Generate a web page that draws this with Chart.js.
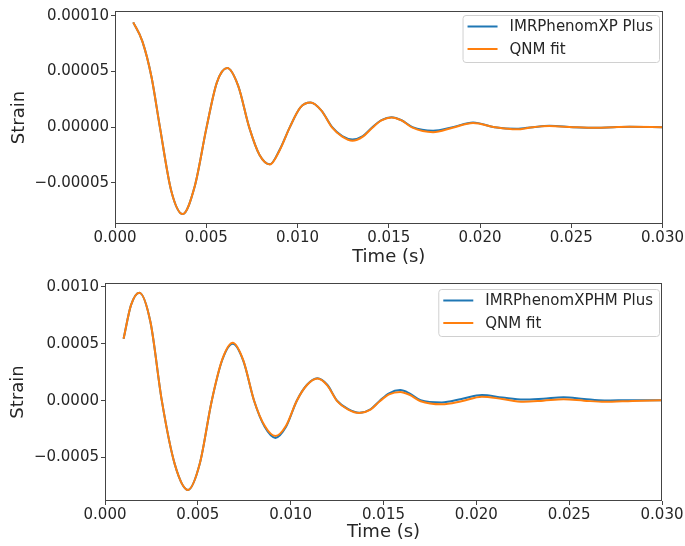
<!DOCTYPE html>
<html>
<head>
<meta charset="utf-8">
<script src="https://cdn.jsdelivr.net/npm/chart.js@4/dist/chart.umd.min.js"></script>
<style>
  body { margin: 0; background: #fff; }
  canvas { position: absolute; left: 0; }
</style>
</head>
<body>
<canvas id="topChart" width="685" height="270" style="top:0"></canvas>
<canvas id="bottomChart" width="685" height="276" style="top:270px"></canvas>
<script>
// top panel: IMRPhenomXP vs QNM fit
const topTime = [0.0010, 0.0015, 0.0020, 0.00246, 0.00308, 0.00371, 0.00437, 0.00502, 0.00558, 0.00615,
                 0.00675, 0.00735, 0.00792, 0.00849, 0.00903, 0.00958, 0.01015, 0.01071, 0.0113, 0.0119,
                 0.01245, 0.01301, 0.01358, 0.0141, 0.0146, 0.01515, 0.0157, 0.0163, 0.01743, 0.0185,
                 0.01962, 0.0208, 0.0220, 0.0229, 0.0238, 0.0251, 0.0264, 0.0273, 0.0282, 0.0300];
const topIMR = [9.4e-5, 7.7e-5, 4.5e-5, 0, -5.7e-5, -7.8e-5, -5.3e-5, 0, 4.0e-5, 5.3e-5,
                3.7e-5, 0, -2.5e-5, -3.33e-5, -2.0e-5, 0, 1.75e-5, 2.2e-5, 1.5e-5, 0,
                -0.8e-5, -1.1e-5, -0.8e-5, 0, 0.63e-5, 0.89e-5, 0.62e-5, 0, -0.32e-5, 0,
                0.42e-5, 0, -0.15e-5, 0, 0.12e-5, 0, -0.06e-5, 0, 0.04e-5, 0];
const topQNM = [9.4e-5, 7.7e-5, 4.5e-5, 0, -5.7e-5, -7.8e-5, -5.3e-5, 0, 4.0e-5, 5.3e-5,
                3.7e-5, 0, -2.5e-5, -3.35e-5, -2.05e-5, 0, 1.75e-5, 2.2e-5, 1.5e-5, -0.05e-5,
                -0.85e-5, -1.22e-5, -0.85e-5, -0.05e-5, 0.6e-5, 0.87e-5, 0.6e-5, -0.05e-5, -0.45e-5, -0.05e-5,
                0.38e-5, 0, -0.2e-5, 0, 0.1e-5, 0, -0.06e-5, 0, 0.03e-5, 0];

// bottom panel: IMRPhenomXPHM vs QNM fit
const botTime = [0.0010, 0.0014, 0.00185, 0.00245, 0.00306, 0.00376, 0.00447, 0.00511, 0.00575, 0.00632,
                 0.00688, 0.00745, 0.00803, 0.0086, 0.00918, 0.00975, 0.01033, 0.01088, 0.01144, 0.01197,
                 0.0125, 0.0131, 0.0137, 0.0143, 0.0148, 0.0153, 0.0159, 0.0164, 0.0170, 0.01814,
                 0.0192, 0.0203, 0.0214, 0.02254, 0.0236, 0.0247, 0.0258, 0.0269, 0.0284, 0.0300];
const botIMR = [5.44e-4, 8.4e-4, 9.5e-4, 6.9e-4, 0, -5.6e-4, -7.85e-4, -5.5e-4, 0, 3.6e-4,
                5.0e-4, 3.5e-4, 0, -2.3e-4, -3.27e-4, -2.3e-4, 0, 1.4e-4, 1.97e-4, 1.4e-4,
                0, -7.5e-5, -1.06e-4, -7.5e-5, 0, 6.5e-5, 9.3e-5, 6.5e-5, 0.5e-5, -1.5e-5,
                1.5e-5, 5.0e-5, 2.8e-5, 1.0e-5, 1.8e-5, 3.0e-5, 1.5e-5, 0.2e-5, 0.5e-5, 0.5e-5];
const botQNM = [5.44e-4, 8.4e-4, 9.5e-4, 6.9e-4, 0, -5.6e-4, -7.85e-4, -5.5e-4, 0, 3.65e-4,
                5.1e-4, 3.55e-4, 0, -2.2e-4, -3.1e-4, -2.2e-4, 0, 1.38e-4, 1.95e-4, 1.35e-4,
                -0.3e-5, -7.8e-5, -1.08e-4, -7.8e-5, -0.5e-5, 5.5e-5, 7.7e-5, 5.2e-5, -0.5e-5, -3.2e-5,
                -0.5e-5, 3.5e-5, 1.5e-5, -0.9e-5, 0, 1.2e-5, 0, -1.0e-5, -0.2e-5, 0.5e-5];

const xTicks = [0, 0.005, 0.010, 0.015, 0.020, 0.025, 0.030];
const yTicksTop = [-0.00005, 0, 0.00005, 0.00010];
const yTicksBot = [-0.0005, 0, 0.0005, 0.0010];

const BLUE = '#1f77b4';
const ORANGE = '#ff7f0e';
const INK = '#262626';

Chart.defaults.font.family = '"DejaVu Sans", sans-serif';
Chart.defaults.color = INK;

const fmt = (v, d) => v.toFixed(d).replace('-', '\u2212');

// full box around the axes, like matplotlib spines
const framePlugin = {
  id: 'frame',
  afterDatasetsDraw(chart) {
    const {ctx, chartArea: a} = chart;
    ctx.save();
    ctx.strokeStyle = '#444';
    ctx.lineWidth = 1;
    ctx.strokeRect(Math.round(a.left) + 0.5, Math.round(a.top) + 0.5,
                   Math.round(a.right - a.left) - 1, Math.round(a.bottom - a.top) - 1);
    ctx.restore();
  }
};

// legend drawn inside the plot, upper right
const boxLegend = {
  id: 'boxLegend',
  afterDraw(chart, args, opts) {
    const {ctx, chartArea: a} = chart;
    const sets = chart.data.datasets;
    ctx.save();
    ctx.font = '15px "DejaVu Sans"';
    const textW = Math.max(...sets.map(d => ctx.measureText(d.label).width));
    const w = 5 + 30 + 12 + textW + 6;
    const h = 47;
    const x = a.right - opts.right - w;
    const y = a.top + opts.top;
    ctx.beginPath();
    ctx.roundRect(x + 0.5, y + 0.5, w, h, 3);
    ctx.fillStyle = 'rgba(255,255,255,0.8)';
    ctx.fill();
    ctx.strokeStyle = '#d0d0d0';
    ctx.lineWidth = 1;
    ctx.stroke();
    sets.forEach((d, i) => {
      const cy = y + 11.5 + i * 22.5;
      ctx.beginPath();
      ctx.moveTo(x + 5, cy);
      ctx.lineTo(x + 35, cy);
      ctx.strokeStyle = d.borderColor;
      ctx.lineWidth = 2;
      ctx.stroke();
      ctx.fillStyle = INK;
      ctx.textBaseline = 'middle';
      ctx.fillText(d.label, x + 47, cy + 1);
    });
    ctx.restore();
  }
};

function makeChart(id, cfg) {
  const toPts = arr => cfg.time.map((t, i) => ({x: t, y: arr[i]}));
  return new Chart(document.getElementById(id), {
    type: 'line',
    data: {
      datasets: [
        {label: cfg.names[0], data: toPts(cfg.a), borderColor: BLUE, order: 1},
        {label: cfg.names[1], data: toPts(cfg.b), borderColor: ORANGE, order: 0}
      ]
    },
    options: {
      responsive: false,
      animation: false,
      elements: {
        point: {radius: 0},
        line: {borderWidth: 2, cubicInterpolationMode: 'monotone', fill: false}
      },
      layout: {padding: cfg.pad},
      plugins: {
        legend: {display: false},
        tooltip: {enabled: false},
        boxLegend: cfg.legend
      },
      scales: {
        x: {
          type: 'linear',
          min: 0, max: 0.030,
          afterBuildTicks: s => { s.ticks = xTicks.map(v => ({value: v})); },
          afterFit: s => { s.height = cfg.xHeight; },
          ticks: {font: {size: 15}, padding: 1, maxRotation: 0, callback: v => fmt(v, 3)},
          grid: {drawOnChartArea: false, drawTicks: true, tickLength: 4, color: '#444'},
          border: {display: false},
          title: {display: true, text: 'Time (s)', font: {size: 18, lineHeight: 1.2}, padding: cfg.xTitlePad}
        },
        y: {
          min: cfg.yMin, max: cfg.yMax,
          afterBuildTicks: s => { s.ticks = cfg.yTicks.map(v => ({value: v})); },
          afterFit: s => { s.width = cfg.yWidth; },
          ticks: {font: {size: 15}, padding: 2, callback: v => fmt(v, cfg.digits)},
          grid: {drawOnChartArea: false, drawTicks: true, tickLength: 4, color: '#444'},
          border: {display: false},
          title: {display: true, text: 'Strain', font: {size: 18, lineHeight: 1.2}, padding: cfg.yTitlePad}
        }
      }
    },
    plugins: [framePlugin, boxLegend]
  });
}

makeChart('topChart', {
  time: topTime, a: topIMR, b: topQNM,
  names: ['IMRPhenomXP Plus', 'QNM fit'],
  yMin: -0.0000869, yMax: 0.0001042, yTicks: yTicksTop, digits: 5,
  pad: {top: 10, right: 22, left: 0, bottom: 0},
  xHeight: 46, yWidth: 115, xTitlePad: 2, yTitlePad: 9,
  legend: {right: 3.5, top: 4}
});

makeChart('bottomChart', {
  time: botTime, a: botIMR, b: botQNM,
  names: ['IMRPhenomXPHM Plus', 'QNM fit'],
  yMin: -0.000882, yMax: 0.001035, yTicks: yTicksBot, digits: 4,
  pad: {top: 13, right: 23, left: 0, bottom: 0},
  xHeight: 45, yWidth: 105, xTitlePad: 3, yTitlePad: 8,
  legend: {right: 3, top: 6}
});
</script>
</body>
</html>
